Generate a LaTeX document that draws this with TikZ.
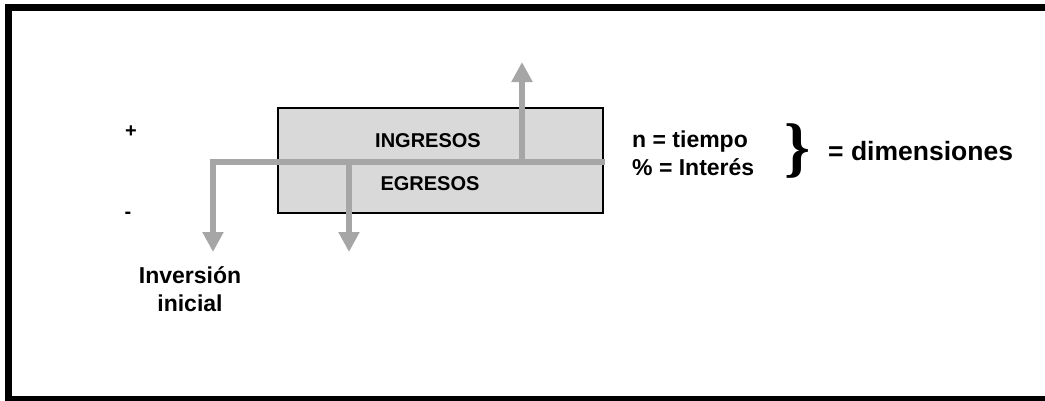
\documentclass[tikz,border=0pt]{standalone}
\usepackage{fontspec}
\setmainfont{Liberation Sans}
\newfontfamily\llavefont{Liberation Serif}
\usetikzlibrary{arrows.meta, positioning}
\definecolor{flujogris}{RGB}{166,166,166}
\definecolor{cajagris}{RGB}{217,217,217}

\begin{document}
\begin{tikzpicture}[x=1pt, y=-1pt,
      caja/.style={draw=black, fill=cajagris, line width=1.2pt,
                   minimum width=325pt, minimum height=105pt, inner sep=0pt},
      etiqueta/.style={font=\fontsize{20}{28}\selectfont\bfseries, inner sep=0pt},
      texto/.style={font=\fontsize{23}{28}\selectfont\bfseries, inner sep=0pt},
      grande/.style={font=\fontsize{26.5}{30}\selectfont\bfseries, inner sep=0pt},
      flecha/.style={draw=flujogris, line width=6pt, line join=miter,
                     -{Triangle[width=20pt,length=20pt]}}]
    \useasboundingbox (0,0) rectangle (1045,400);
    \clip (0,0) rectangle (1045,400);
    \draw[line width=7pt] (8.5,7.5) rectangle (1060,399.5);
    % caja de flujo
    \node[caja] (flujo) at (440.5,160.5) {};
    \node[etiqueta, anchor=base] (ingresos) at (428,147) {INGRESOS};
    \node[etiqueta, anchor=base] (egresos) at (430,190) {EGRESOS};
    % signos
    \node[etiqueta] (mas) at (131,132) {+};
    \node[etiqueta] (menos) at (128,215) {-};
    % puntos del eje
    \coordinate (eje der) at (605,162);
    \coordinate (esquina) at (213,162);
    \coordinate (inv fin) at (213,252);
    \coordinate (egr ini) at (349,162);
    \coordinate (egr fin) at (349,252);
    \coordinate (ing ini) at (522,162);
    \coordinate (ing fin) at (522,62);
    % flechas
    \draw[flecha] (eje der) -- (esquina) -- (inv fin);
    \draw[flecha] (egr ini) -- (egr fin);
    \draw[flecha] (ing ini) -- (ing fin);
    % textos
    \node[texto, align=center, anchor=base] (inversion) at (190,311) {Inversión\\inicial};
    \node[texto, anchor=base west] (tiempo) at (632,147) {n = tiempo};
    \node[texto, anchor=base west] (interes) at (632,175) {\% = Interés};
    \node[inner sep=0pt, font=\fontsize{66}{66}\llavefont\bfseries] (llave) at (797,151) {\}};
    \node[grande, anchor=base west] (dimensiones) at (828,160) {= dimensiones};
\end{tikzpicture}
\end{document}
